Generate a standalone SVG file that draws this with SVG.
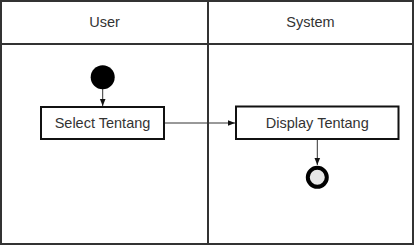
<svg xmlns="http://www.w3.org/2000/svg" width="415" height="246" viewBox="0 0 415 246">
  <style>
    .lane { fill: #ffffff; stroke: #333333; stroke-width: 2; }
    .label { font-family: "Liberation Sans", Arial, sans-serif; font-size: 14.5px; fill: #333333; text-anchor: middle; dominant-baseline: central; }
    .action { fill: #ffffff; stroke: #111111; stroke-width: 2; }
    .flow { fill: none; stroke: #333333; stroke-width: 1; }
  </style>
  <defs>
    <marker id="arrow" viewBox="0 0 10 10" refX="10" refY="5" markerWidth="7" markerHeight="7" orient="auto" markerUnits="userSpaceOnUse">
      <path d="M0,1 L10,5 L0,9 Z" fill="#111111"/>
    </marker>
  </defs>

  <!-- swimlanes -->
  <g id="lanes">
    <rect class="lane" x="1" y="1" width="412" height="243"/>
    <line class="lane" x1="1" y1="44" x2="413" y2="44"/>
    <line class="lane" x1="208" y1="1" x2="208" y2="244"/>
    <text class="label" x="104.5" y="22">User</text>
    <text class="label" x="310.5" y="22">System</text>
  </g>

  <!-- connectors -->
  <g id="connectors">
    <line class="flow" x1="102.7" y1="89" x2="102.7" y2="106" marker-end="url(#arrow)"/>
    <line class="flow" x1="164" y1="123" x2="235" y2="123" marker-end="url(#arrow)"/>
    <line class="flow" x1="317.3" y1="139.5" x2="317.3" y2="165" marker-end="url(#arrow)"/>
  </g>

  <g id="start">
    <circle cx="102.7" cy="77.3" r="12" fill="#000000"/>
  </g>

  <g id="select-tentang">
    <rect class="action" x="41" y="107" width="123" height="32"/>
    <text class="label" x="102.5" y="123">Select Tentang</text>
  </g>

  <g id="display-tentang">
    <rect class="action" x="236" y="106.5" width="162.5" height="32.5"/>
    <text class="label" x="317.3" y="123">Display Tentang</text>
  </g>

  <g id="end">
    <circle cx="317.3" cy="177.3" r="9.5" fill="#e6e6e6" stroke="#000000" stroke-width="4"/>
  </g>
</svg>
